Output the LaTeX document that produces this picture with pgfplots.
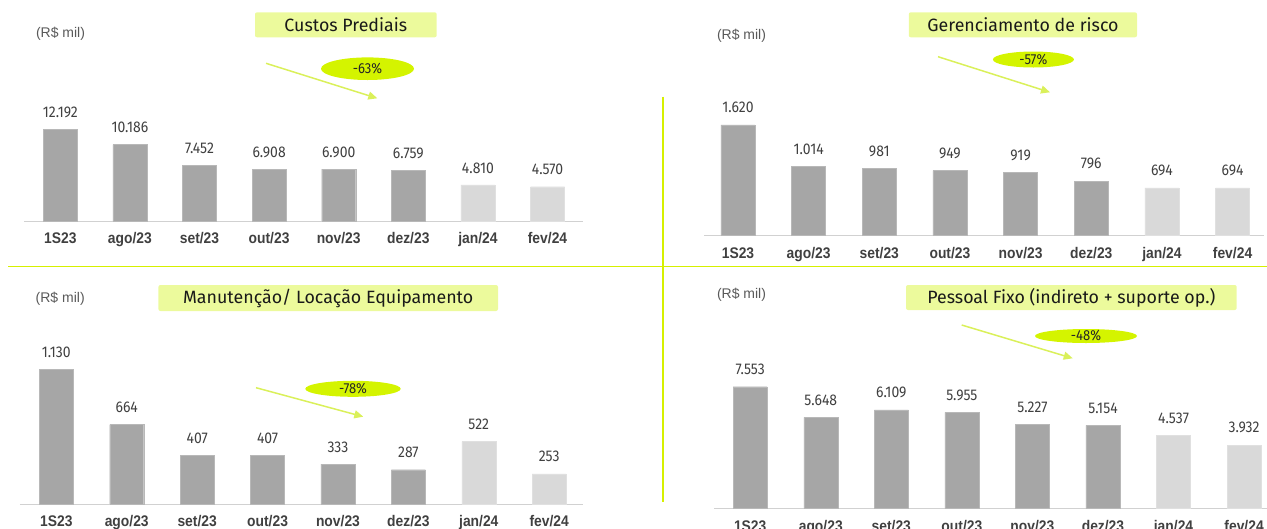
\documentclass[border=0pt]{standalone}
\usepackage{pgfplots}
\pgfplotsset{compat=1.18}
\usepackage{fontspec}
\usetikzlibrary{arrows.meta}
\setmainfont{Fira Sans}
\newfontfamily\catfont{Liberation Sans}[FakeStretch=0.9]
\newfontfamily\unitfont{Liberation Sans}
\newfontfamily\valfont{Fira Sans}[FakeStretch=0.9]
\newfontfamily\ttlfont{Fira Sans}

\definecolor{bardark}{RGB}{166,166,166}
\definecolor{barlight}{RGB}{217,217,217}
\definecolor{titlebg}{RGB}{236,250,156}
\definecolor{pill}{RGB}{212,244,0}
\definecolor{arrowlime}{RGB}{218,240,90}
\definecolor{divider}{RGB}{214,240,0}
\definecolor{txt}{RGB}{64,64,64}

\pgfplotsset{
  panel/.style={
    scale only axis, clip=false, anchor=south west,
    ymin=0,
    axis y line=none,
    axis x line*=bottom,
    x axis line style={draw=black!18, line width=1pt, -},
    xtick={0,...,7},
    xticklabels={1S23,ago/23,set/23,out/23,nov/23,dez/23,jan/24,fev/24},
    major tick length=0pt,
    xticklabel style={font=\catfont\bfseries\fontsize{15.4}{16}\selectfont,
      text=txt, anchor=base, inner sep=0pt, yshift=-22.8pt},
    nodes near coords,
    point meta=explicit symbolic,
    nodes near coords style={font=\valfont\fontsize{15.5}{16}\selectfont,
      text=txt, anchor=south, inner sep=0pt, yshift=11.5pt},
  },
  darkbar/.style={ybar, bar width=34pt, bar shift=0pt, fill=bardark, draw=black!28, line width=0.4pt},
  lightbar/.style={ybar, bar width=34pt, bar shift=0pt, fill=barlight, draw=black!12, line width=0.4pt},
}

\begin{document}
\begin{tikzpicture}
\clip (0pt,0pt) rectangle (1267pt,-528pt);

% Custos Prediais
\begin{axis}[panel, at={(24.3pt,-221pt)}, width=559pt, height=91.5pt,
  xmin=-0.517, xmax=7.514, ymax=12192]
\addplot[darkbar] coordinates {(0,12192)[12.192] (1,10186)[10.186] (2,7452)[7.452]
  (3,6908)[6.908] (4,6900)[6.900] (5,6759)[6.759]};
\addplot[lightbar] coordinates {(6,4810)[4.810] (7,4570)[4.570]};
\end{axis}

% Gerenciamento de risco
\begin{axis}[panel, at={(704pt,-235.3pt)}, width=560pt, height=110.5pt,
  xmin=-0.481, xmax=7.445, ymax=1620]
\addplot[darkbar] coordinates {(0,1620)[1.620] (1,1014)[1.014] (2,981)[981]
  (3,949)[949] (4,919)[919] (5,796)[796]};
\addplot[lightbar] coordinates {(6,694)[694] (7,694)[694]};
\end{axis}

% Manutencao / Locacao Equipamento
\begin{axis}[panel, at={(20pt,-504pt)}, width=563pt, height=135pt,
  xmin=-0.516, xmax=7.48, ymax=1130]
\addplot[darkbar] coordinates {(0,1130)[1.130] (1,664)[664] (2,407)[407]
  (3,407)[407] (4,333)[333] (5,287)[287]};
\addplot[lightbar] coordinates {(6,522)[522] (7,253)[253]};
\end{axis}

% Pessoal Fixo
\begin{axis}[panel, at={(714pt,-508.3pt)}, width=553pt, height=121.6pt,
  xmin=-0.513, xmax=7.325, ymax=7553]
\addplot[darkbar] coordinates {(0,7553)[7.553] (1,5648)[5.648] (2,6109)[6.109]
  (3,5955)[5.955] (4,5227)[5.227] (5,5154)[5.154]};
\addplot[lightbar] coordinates {(6,4537)[4.537] (7,3932)[3.932]};
\end{axis}

\begin{scope}[x=1pt, y=-1pt]
  % dividers
  \draw[divider, line width=1.5pt] (8,266.5) -- (1267,266.5);
  \draw[divider, line width=1.5pt] (662.8,96.7) -- (662.8,502);

  % units
  \tikzset{unit/.style={font=\unitfont\fontsize{14}{15}\selectfont, text=black!65, inner sep=0pt}}
  \node[unit] at (60.5,33.3) {(R\$ mil)};
  \node[unit] at (741.5,36) {(R\$ mil)};
  \node[unit] at (60.2,298.3) {(R\$ mil)};
  \node[unit] at (741.5,295) {(R\$ mil)};

  % titles
  \tikzset{ttl/.style={font=\ttlfont\fontsize{17.8}{19}\selectfont, text=black!90}}
  \fill[titlebg, rounded corners=2pt] (255,12.3) rectangle (436.7,37.3);
  \node[ttl] at (345.8,24.8) {Custos Prediais};
  \fill[titlebg, rounded corners=2pt] (908.8,12.3) rectangle (1137,37.3);
  \node[ttl] at (1023,24.8) {Gerenciamento de risco};
  \fill[titlebg, rounded corners=2pt] (158.4,285) rectangle (498,311);
  \node[ttl] at (328.2,298) {Manutenção/ Locação Equipamento};
  \fill[titlebg, rounded corners=2pt] (906,285) rectangle (1236.7,310);
  \node[ttl] at (1071.3,297.5) {Pessoal Fixo (indireto + suporte op.)};

  % trend arrows
  \tikzset{trend/.style={arrowlime, line width=1.5pt, -{Triangle[length=9pt, width=8pt]}}}
  \draw[trend] (266,63.3) -- (377.3,98.3);
  \draw[trend] (938,56.7) -- (1050,92.3);
  \draw[trend] (256,387.7) -- (363.3,416.7);
  \draw[trend] (961.7,325) -- (1072.7,358.3);

  % percentage pills
  \tikzset{pct/.style={font=\valfont\fontsize{14.5}{15}\selectfont, text=black!85}}
  \fill[pill] (367.5,68.7) ellipse [x radius=46.5, y radius=11.3];
  \node[pct] at (367.5,68.7) {-63\%};
  \fill[pill] (1033.4,59.5) ellipse [x radius=40.5, y radius=8];
  \node[pct] at (1033.4,59.5) {-57\%};
  \fill[pill] (353,388.8) ellipse [x radius=47.7, y radius=8];
  \node[pct] at (353,388.8) {-78\%};
  \fill[pill] (1086,336) ellipse [x radius=51, y radius=7];
  \node[pct] at (1086,336) {-48\%};
\end{scope}
\end{tikzpicture}
\end{document}
